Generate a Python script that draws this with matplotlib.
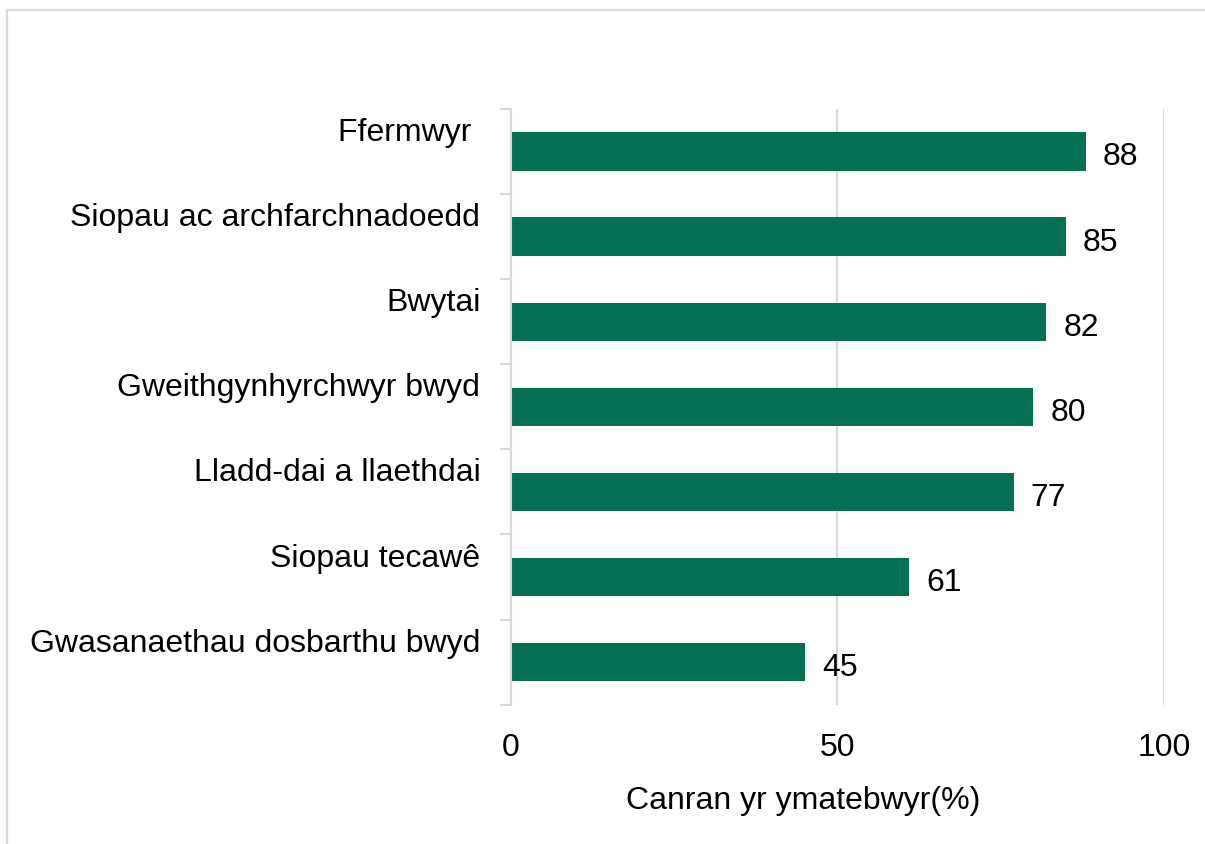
import matplotlib.pyplot as plt
import matplotlib.transforms as mtransforms
from matplotlib.patches import Rectangle

# -------------------------
# DATA
# -------------------------

categories = [
    "Ffermwyr ",
    "Siopau ac archfarchnadoedd",
    "Bwytai",
    "Gweithgynhyrchwyr bwyd",
    "Lladd-dai a llaethdai",
    "Siopau tecawê",
    "Gwasanaethau dosbarthu bwyd",
]
values = [88, 85, 82, 80, 77, 61, 45]
x_ticks = [0, 50, 100]

bar_color = "#036F53"
grid_color = "#D9D9D9"

plt.rcParams["font.family"] = ["Liberation Sans", "DejaVu Sans"]
fs = 23

fig = plt.figure(figsize=(12.05, 8.44), dpi=100)
ax = fig.add_axes([0.424, 0.165, 0.542, 0.706])

pos = list(range(len(categories)))
ax.barh(pos, values, height=0.45, color=bar_color, zorder=3)

for p, v in zip(pos, values):
    ax.text(v + 2.6, p + 0.07, str(v), va="center", ha="left", fontsize=fs)

ax.set_ylim(len(categories) - 0.5, -0.5)
ax.set_xlim(0, 100)

# labels sit a bit above each bar, like the original
ax.set_yticks(pos)
ax.set_yticklabels(categories, fontsize=fs)
ax.tick_params(axis="y", which="major", length=0, pad=22)
offset = mtransforms.ScaledTranslation(0, 0.22, fig.dpi_scale_trans)
for lab in ax.get_yticklabels():
    lab.set_transform(lab.get_transform() + offset)

# small ticks at the band edges
ax.set_yticks([i - 0.5 for i in range(len(categories) + 1)], minor=True)
ax.tick_params(axis="y", which="minor", length=8, width=1.5, color=grid_color)

ax.set_xticks(x_ticks)
ax.tick_params(axis="x", length=0, labelsize=fs, pad=20)
ax.grid(axis="x", color=grid_color, linewidth=1.5, zorder=0)

for s in ["top", "right", "bottom"]:
    ax.spines[s].set_visible(False)
ax.spines["left"].set_color(grid_color)
ax.spines["left"].set_linewidth(1.5)
ax.spines["left"].set_zorder(4)

ax.set_xlabel("Canran yr ymatebwyr(%)", fontsize=fs)
ax.xaxis.set_label_coords(0.447, -0.137)

# light border, only its top and left edges fall inside the picture
fig.patches.append(Rectangle((0.0058, -0.02), 1.1, 1.008, transform=fig.transFigure,
                             fill=False, edgecolor=grid_color, linewidth=1.6))

fig.savefig("out.png", dpi=100)
